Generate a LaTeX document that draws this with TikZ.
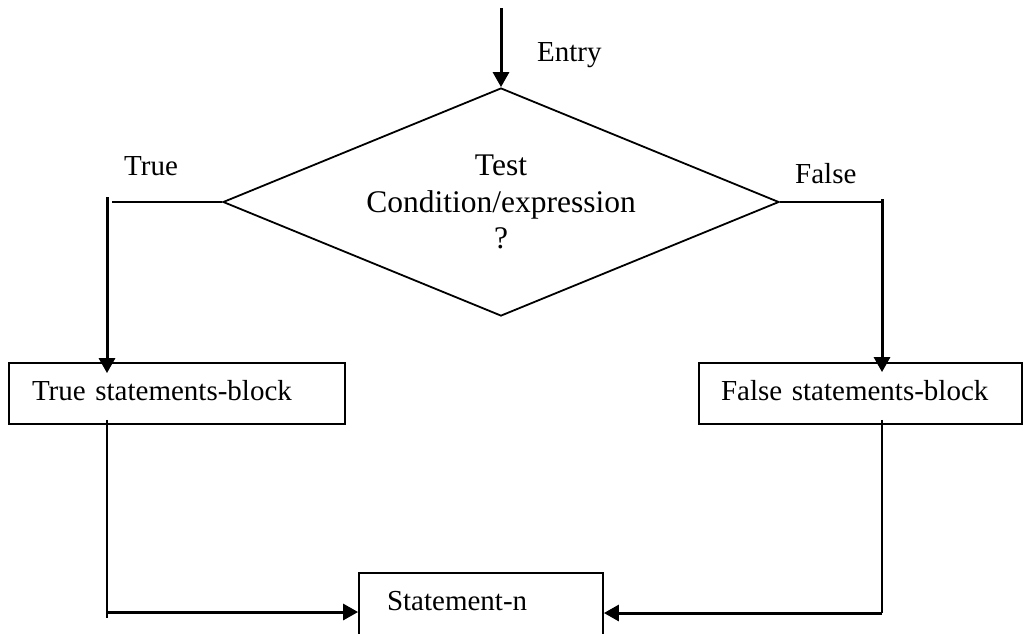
\documentclass[tikz,border=0pt]{standalone}
\usepackage{fontspec}
\setmainfont{Liberation Serif}
\usetikzlibrary{shapes.geometric,arrows.meta,calc}
\begin{document}
\begin{tikzpicture}[x=1pt,y=-1pt,
  txt/.style={font=\fontsize{29pt}{36.5pt}\selectfont, inner sep=0pt},
  thinline/.style={line width=1.8pt},
  flow/.style={line width=3pt, -{Triangle[length=15pt,width=16pt]}},
  block/.style={txt, draw, line width=1.8pt, align=left, inner ysep=0pt,
                text height=20pt, text depth=6pt},
  decision/.style={txt, font=\fontsize{31.5pt}{36.5pt}\selectfont, draw, diamond,
                   shape aspect=2.44, line width=1.8pt, align=center,
                   minimum width=556pt, minimum height=228pt}
]
\useasboundingbox (0,0) rectangle (1025,633);
\clip (0,0) rectangle (1025,633);
\fill[white] (0,0) rectangle (1025,633);

% decision
\node[decision] (test) at (501,202) {Test\\Condition/expression\\?};

% labels
\node[txt, anchor=base west] (entrylbl) at (537,61) {Entry};
\node[txt, anchor=base west] (truelbl) at (124,175) {True};
\node[txt, anchor=base west] (falselbl) at (795,183) {False};

% statement blocks
\node[block, text width=290pt, inner xsep=23pt, minimum height=61pt] (tbox) at (177,393.5) {True statements-block};
\node[block, text width=279pt, inner xsep=22pt, minimum height=61pt] (fbox) at (860.5,393.5) {False statements-block};
\node[block, text width=188pt, inner xsep=28pt, minimum height=64pt, text depth=10pt] (stn) at (481,605) {Statement-n};

% routing points
\coordinate (entry) at (501,8);
\coordinate (tl) at (107,197);
\coordinate (tr) at (882,199);
\coordinate (bl) at (107,612);
\coordinate (br) at (882,613);

% connectors
\draw[flow] (entry) -- (test.north);
\draw[thinline] (test.west) -- ($(test.west -| tl)+(5,0)$);
\draw[flow] (tl) -- ($(tl |- tbox.north)+(0,11)$);
\draw[thinline] (test.east) -- (test.east -| tr);
\draw[flow] (tr) -- ($(tr |- fbox.north)+(0,10)$);
\draw[thinline] ($(tl |- tbox.south)+(0,-5)$) -- ($(bl)+(0,6)$);
\draw[flow] (bl) -- (stn.west |- bl);
\draw[thinline] ($(tr |- fbox.south)+(0,-5)$) -- (br);
\draw[flow] (br) -- (stn.east |- br);
\end{tikzpicture}
\end{document}
